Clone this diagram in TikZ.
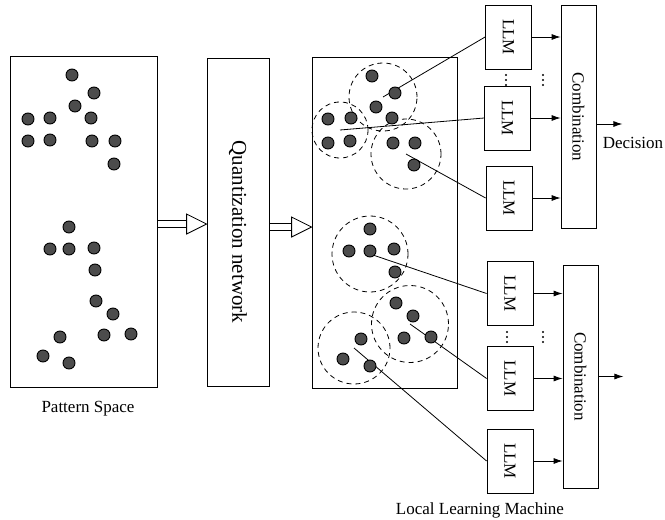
\documentclass[tikz,border=0pt]{standalone}
\usepackage{fontspec}
\setmainfont{Liberation Serif}
\usetikzlibrary{arrows.meta,calc}

% double-line arrow with an open head, between two boxes
\newcommand\hollowarrow[3]{%
  \coordinate (ha-s) at ([yshift=#3]#1.east);
  \coordinate (ha-e) at (ha-s -| #2.west);
  \draw[line width=0.8pt] ([yshift=3.5pt]ha-s) -- ([xshift=-20pt,yshift=3.5pt]ha-e)
        ([yshift=-3.5pt]ha-s) -- ([xshift=-20pt,yshift=-3.5pt]ha-e);
  \draw[line width=0.8pt,fill=white] ([xshift=-20pt,yshift=10pt]ha-e) -- (ha-e)
        -- ([xshift=-20pt,yshift=-10pt]ha-e) -- cycle;}

\begin{document}
\begin{tikzpicture}[x=1pt,y=-1pt,
    box/.style={draw,line width=0.8pt,inner sep=0pt},
    dot/.style={circle,draw,line width=0.9pt,fill=black!70,minimum size=12pt,inner sep=0pt},
    cluster/.style={circle,draw,dash pattern=on 5pt off 4pt,line width=0.8pt,inner sep=0pt},
    lbl/.style={font=\fontsize{17}{20}\selectfont},
    llm/.style={box,minimum width=46pt,minimum height=64pt,
      label={[lbl,rotate=-90]center:LLM}},
    comb/.style={box,minimum width=35pt,minimum height=223pt,
      label={[lbl,rotate=-90]center:Combination}},
    feed/.style={-{Latex[length=9pt,width=6pt]},line width=0.8pt}]

  \useasboundingbox (0,0) rectangle (665,520);

  % Main blocks
  \node[box,minimum width=147pt,minimum height=331pt] (space) at (83.5,221.5) {};
  \node[box,minimum width=62pt,minimum height=328pt] (quant) at (238,222) {};
  \node[box,minimum width=145pt,minimum height=331pt] (region) at (384.5,222.5) {};
  \node[lbl,rotate=-90] (qtext) at (238,232) {\fontsize{21}{24}\selectfont Quantization network};

  \hollowarrow{space}{quant}{-2.5pt}
  \hollowarrow{quant}{region}{-5pt}

  % Patterns
  \foreach \x/\y in {72/75,94/93,75/106,28/119,50/118,91/118,28/141,50/140,92/141,
      115/141,114/164,69/227,50/249,69/249,94/248,95/270,96/301,113/314,60/337,
      104/335,131/334,43/356,69/363}
    \node[dot] at (\x,\y) {};

  % Local regions
  \node[cluster,minimum size=68pt] (c1) at (383,97) {};
  \node[cluster,minimum size=56pt] (c2) at (340,130) {};
  \node[cluster,minimum size=70pt] (c3) at (406,154) {};
  \node[cluster,minimum size=76pt] (c4) at (370,254) {};
  \node[cluster,minimum size=77pt] (c5) at (410,324) {};
  \node[cluster,minimum size=72pt] (c6) at (354,348) {};

  % Local learning machines
  \node[llm] (llm1) at (508.5,37) {};
  \node[llm] (llm2) at (507.5,118) {};
  \node[llm] (llm3) at (509,198) {};
  \node[llm] (llm4) at (510,293.5) {};
  \node[llm] (llm5) at (510,378.5) {};
  \node[llm] (llm6) at (510,461) {};
  \node[comb] (comb1) at (578.5,117) {};
  \node[comb] (comb2) at (580.5,376.5) {};

  \foreach \c/\l in {c1/llm1,c2/llm2,c3/llm3,c4/llm4,c5/llm5,c6/llm6}
    \draw[line width=0.8pt] (\c.center) -- (\l.west);

  \foreach \x/\y in {372/76,395/93,376/107,328/119,351/118,392/118,328/143,350/141,
      393/143,415/143,414/165,370/229,349/251,370/251,394/249,395/272,396/303,
      413/316,404/338,431/337,361/339,343/359,370/366}
    \node[dot] at (\x,\y) {};

  \foreach \l/\c in {llm1/comb1,llm2/comb1,llm3/comb1,llm4/comb2,llm5/comb2,llm6/comb2}
    \draw[feed] (\l.east) -- (\l.east -| \c.west);

  % more machines than drawn
  \foreach \x/\y in {506/75,543/75,507/332,543/332}
    \foreach \d in {0,5,10}
      \fill (\x,\y+\d) circle (1.1pt);

  % Outputs
  \draw[feed] ([yshift=-7pt]comb1.east) -- ++(26,0) coordinate (dec);
  \draw[feed] (comb2.east) -- ++(25,0) coordinate (dec2);
  \node[lbl] (decision) at (633,143) {Decision};

  % Captions
  \node[lbl] (spacecap) at (88,409) {Pattern Space};
  \node[lbl] (regioncap) at (480,510) {Local Learning Machine};
\end{tikzpicture}
\end{document}
